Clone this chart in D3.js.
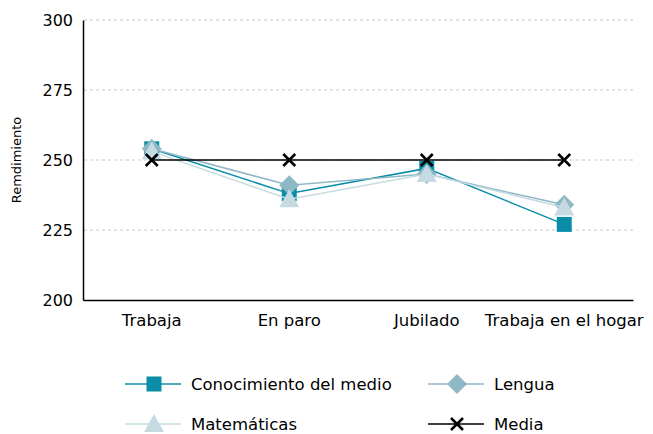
<!DOCTYPE html>
<html><head><meta charset="utf-8">
<script src="https://cdn.jsdelivr.net/npm/d3@7"></script>
<style>body{margin:0;background:#fff;} text{font-family:"DejaVu Sans",sans-serif;}</style>
</head><body><svg id="c" width="653" height="434"></svg>
<script>
const categories = ["Trabaja","En paro","Jubilado","Trabaja en el hogar"];
const conocimiento = [254, 238, 247, 227];
const lengua = [254, 241, 245, 234];
const matematicas = [253, 236, 245, 233];
const media = [250, 250, 250, 250];
const yTicks = [200, 225, 250, 275, 300];
const seriesNames = ["Conocimiento del medio","Lengua","Matemáticas","Media"];

const svg = d3.select("#c");
const x = d3.scaleBand().domain(categories).range([83, 633]);
const y = d3.scaleLinear().domain([200, 300]).range([300, 20]);

svg.append("g").selectAll("line").data(yTicks.filter(d=>d>200)).join("line")
  .attr("x1",84).attr("x2",633).attr("y1",d=>y(d)).attr("y2",d=>y(d))
  .attr("stroke","#c8c8c8").attr("stroke-dasharray","3,3").attr("stroke-width",1);

const yAxis = svg.append("g").attr("transform","translate(83,0)")
  .call(d3.axisLeft(y).tickValues(yTicks).tickSize(0).tickPadding(10));
yAxis.select(".domain").attr("stroke","#000").attr("stroke-width",1.5);
yAxis.selectAll("text").attr("font-size",16).attr("fill","#000");

const xAxis = svg.append("g").attr("transform","translate(0,300)")
  .call(d3.axisBottom(x).tickSize(0).tickPadding(14));
xAxis.select(".domain").attr("stroke","#000").attr("stroke-width",1.5);
xAxis.selectAll("text").attr("font-size",16.5).attr("fill","#000");

svg.append("text").attr("transform","translate(21,160) rotate(-90)")
  .attr("text-anchor","middle").attr("font-size",13).text("Remdimiento");

const cx = d => x(d) + x.bandwidth()/2;
const data = [
  {name:seriesNames[0], vals:conocimiento, color:"#0a8ea8", marker:"square", width:1.5},
  {name:seriesNames[1], vals:lengua, color:"#8fb8c6", marker:"diamond", width:1.5},
  {name:seriesNames[2], vals:matematicas, color:"#c6dbe1", marker:"triangle", width:1.5},
  {name:seriesNames[3], vals:media, color:"#000", marker:"x", width:1.3}
];
function drawMarker(g, type, color){
  if(type==="square") g.append("rect").attr("x",-7.5).attr("y",-7.5).attr("width",15).attr("height",15).attr("fill",color);
  else if(type==="diamond") g.append("path").attr("d","M0,-10L10,0L0,10L-10,0Z").attr("fill",color);
  else if(type==="triangle") g.append("path").attr("d","M0,-10L10,8L-10,8Z").attr("fill",color);
  else g.append("path").attr("d","M-6,-6L6,6M-6,6L6,-6").attr("stroke",color).attr("stroke-width",2.5).attr("fill","none");
}
const line = d3.line().x((d,i)=>cx(categories[i])).y(d=>y(d));
data.forEach(s=>{
  svg.append("path").attr("d",line(s.vals)).attr("fill","none").attr("stroke",s.color).attr("stroke-width",s.width);
  s.vals.forEach((v,i)=>{
    const g = svg.append("g").attr("transform",`translate(${cx(categories[i])},${y(v)})`);
    drawMarker(g, s.marker, s.color);
  });
});

const leg = [
  {s:data[0], x:125, y:384},{s:data[1], x:428, y:384},
  {s:data[2], x:125, y:424},{s:data[3], x:428, y:424}
];
leg.forEach(l=>{
  const g = svg.append("g").attr("transform",`translate(${l.x},${l.y})`);
  g.append("line").attr("x1",0).attr("x2",56).attr("stroke",l.s.color).attr("stroke-width",1.5);
  const m = g.append("g").attr("transform","translate(29,0)");
  drawMarker(m, l.s.marker, l.s.color);
  g.append("text").attr("x",66).attr("y",6).attr("font-size",16.5).text(l.s.name);
});
</script></body></html>
